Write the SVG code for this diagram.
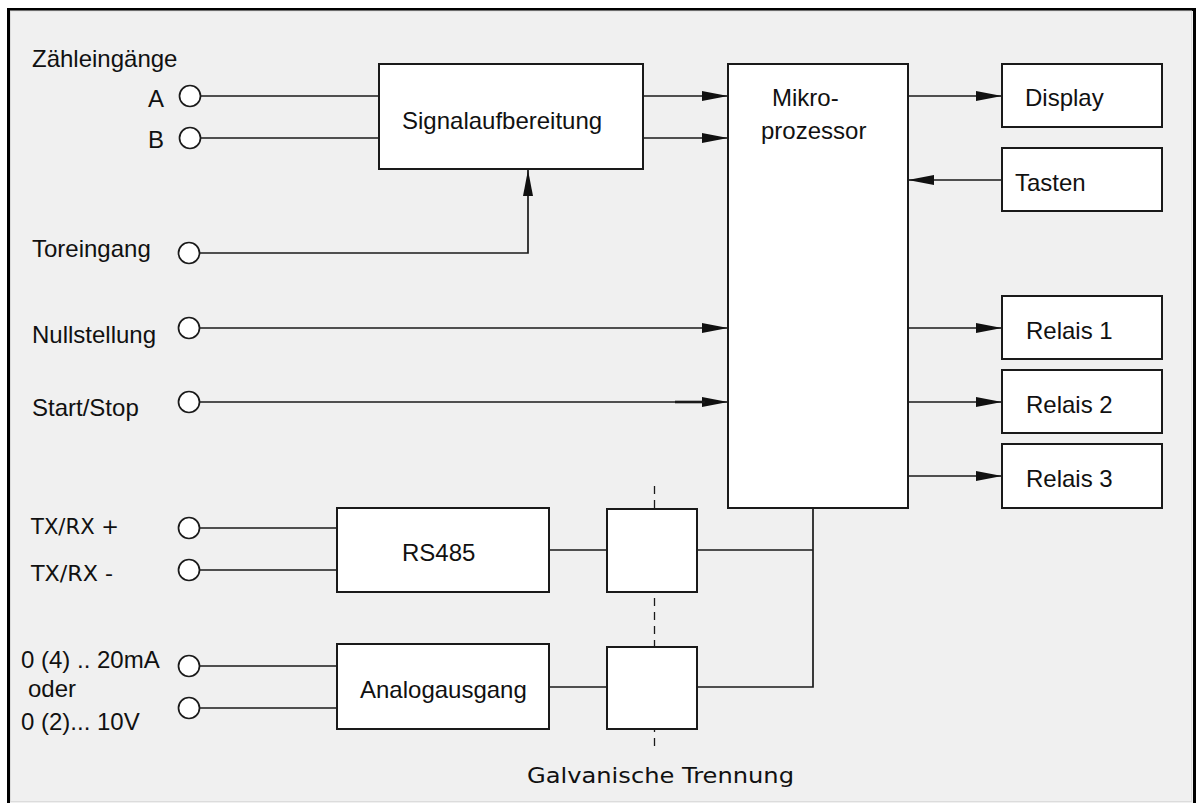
<svg xmlns="http://www.w3.org/2000/svg" width="1196" height="803" viewBox="0 0 1196 803">
<defs>
<marker id="arr" markerUnits="userSpaceOnUse" markerWidth="26" markerHeight="10" refX="26" refY="5" orient="auto" viewBox="0 0 26 10">
<path d="M0,0 L26,5 L0,10 z" fill="#111"/>
</marker>
<style>
.box{fill:#fff;stroke:#1a1a1a;stroke-width:2}
.ln{fill:none;stroke:#1a1a1a;stroke-width:1.7}
.ar{fill:none;stroke:#1a1a1a;stroke-width:1.7;marker-end:url(#arr)}
.term{fill:#fff;stroke:#1a1a1a;stroke-width:1.7}
.t{font-family:"Liberation Sans",Arial,sans-serif;font-size:24px;fill:#111}
.g{font-family:"DejaVu Sans","Liberation Sans",sans-serif;font-size:22px;fill:#111}
</style>
</defs>
<rect x="0" y="0" width="1196" height="803" fill="#fff"/>
<rect x="8.5" y="9.5" width="1186" height="800" fill="#f0f0f0" stroke="#000" stroke-width="3"/>
<rect x="10.5" y="11" width="1181" height="790.5" fill="none" stroke="#dcdcdc" stroke-width="1"/>

<g id="connectors">
<line class="ln" x1="200" y1="96" x2="379" y2="96"/>
<line class="ln" x1="200" y1="138" x2="379" y2="138"/>
<line class="ar" x1="643" y1="96" x2="728" y2="96"/>
<line class="ar" x1="643" y1="138" x2="728" y2="138"/>
<path class="ar" d="M200,253 H528 V170"/>
<line class="ar" x1="200" y1="328" x2="728" y2="328"/>
<line class="ar" x1="200" y1="402" x2="728" y2="402"/>
<line x1="675" y1="402" x2="705" y2="402" stroke="#1a1a1a" stroke-width="2.6"/>
<line class="ar" x1="908" y1="96" x2="1002" y2="96"/>
<line class="ar" x1="1002" y1="180" x2="908" y2="180"/>
<line class="ar" x1="908" y1="328" x2="1002" y2="328"/>
<line class="ar" x1="908" y1="402" x2="1002" y2="402"/>
<line class="ar" x1="908" y1="476" x2="1002" y2="476"/>
<line class="ln" x1="200" y1="528" x2="337" y2="528"/>
<line class="ln" x1="200" y1="570" x2="337" y2="570"/>
<line class="ln" x1="200" y1="666" x2="337" y2="666"/>
<line class="ln" x1="200" y1="708" x2="337" y2="708"/>
<line class="ln" x1="549" y1="550" x2="607" y2="550"/>
<line class="ln" x1="697" y1="550" x2="813" y2="550"/>
<line class="ln" x1="549" y1="687" x2="607" y2="687"/>
<path class="ln" d="M697,687 H813 V508"/>
<line x1="654.5" y1="486" x2="654.5" y2="751" stroke="#1a1a1a" stroke-width="1.3" stroke-dasharray="8,6"/>
</g>

<g id="frame-labels">
<text class="t" x="32" y="67">Zähleingänge</text>
<text class="t" x="32" y="257">Toreingang</text>
<text class="t" x="32" y="343">Nullstellung</text>
<text class="t" x="32" y="416">Start/Stop</text>
<text class="t" x="21" y="668">0 (4) .. 20mA</text>
<text class="t" x="28" y="697">oder</text>
<text class="t" x="21" y="730">0 (2)... 10V</text>
<text class="g" x="31" y="534" textLength="88" lengthAdjust="spacingAndGlyphs">TX/RX +</text>
<text class="g" x="31" y="581" textLength="82" lengthAdjust="spacingAndGlyphs">TX/RX -</text>
<text class="g" x="527" y="783" textLength="267" lengthAdjust="spacingAndGlyphs">Galvanische Trennung</text>
</g>

<g id="in-A"><circle class="term" cx="190" cy="96" r="10.5"/><text class="t" x="148" y="107">A</text></g>
<g id="in-B"><circle class="term" cx="190" cy="138" r="10.5"/><text class="t" x="148" y="148">B</text></g>
<g id="in-tor"><circle class="term" cx="189" cy="253" r="10.5"/></g>
<g id="in-null"><circle class="term" cx="189" cy="328" r="10.5"/></g>
<g id="in-start"><circle class="term" cx="189" cy="402" r="10.5"/></g>
<g id="in-txp"><circle class="term" cx="189" cy="528" r="10.5"/></g>
<g id="in-txm"><circle class="term" cx="189" cy="570" r="10.5"/></g>
<g id="out-a1"><circle class="term" cx="189" cy="666" r="10.5"/></g>
<g id="out-a2"><circle class="term" cx="189" cy="708" r="10.5"/></g>

<g id="signal"><rect class="box" x="379" y="64" width="264" height="105"/><text class="t" x="402" y="129">Signalaufbereitung</text></g>
<g id="mikro"><rect class="box" x="728" y="64" width="180" height="444"/><text class="t" x="772" y="106">Mikro-</text><text class="t" x="761" y="139">prozessor</text></g>
<g id="display"><rect class="box" x="1002" y="64" width="160" height="63"/><text class="t" x="1025" y="106">Display</text></g>
<g id="tasten"><rect class="box" x="1002" y="148" width="160" height="63"/><text class="t" x="1015" y="191">Tasten</text></g>
<g id="relais1"><rect class="box" x="1002" y="296" width="160" height="63"/><text class="t" x="1026" y="339">Relais 1</text></g>
<g id="relais2"><rect class="box" x="1002" y="370" width="160" height="63"/><text class="t" x="1026" y="413">Relais 2</text></g>
<g id="relais3"><rect class="box" x="1002" y="444" width="160" height="64"/><text class="t" x="1026" y="487">Relais 3</text></g>
<g id="rs485"><rect class="box" x="337" y="508" width="212" height="84"/><text class="t" x="402" y="561">RS485</text></g>
<g id="analog"><rect class="box" x="337" y="644" width="212" height="85"/><text class="t" x="360" y="698">Analogausgang</text></g>
<g id="iso1"><rect class="box" x="607" y="509" width="90" height="83"/></g>
<g id="iso2"><rect class="box" x="607" y="647" width="90" height="82"/></g>
</svg>
